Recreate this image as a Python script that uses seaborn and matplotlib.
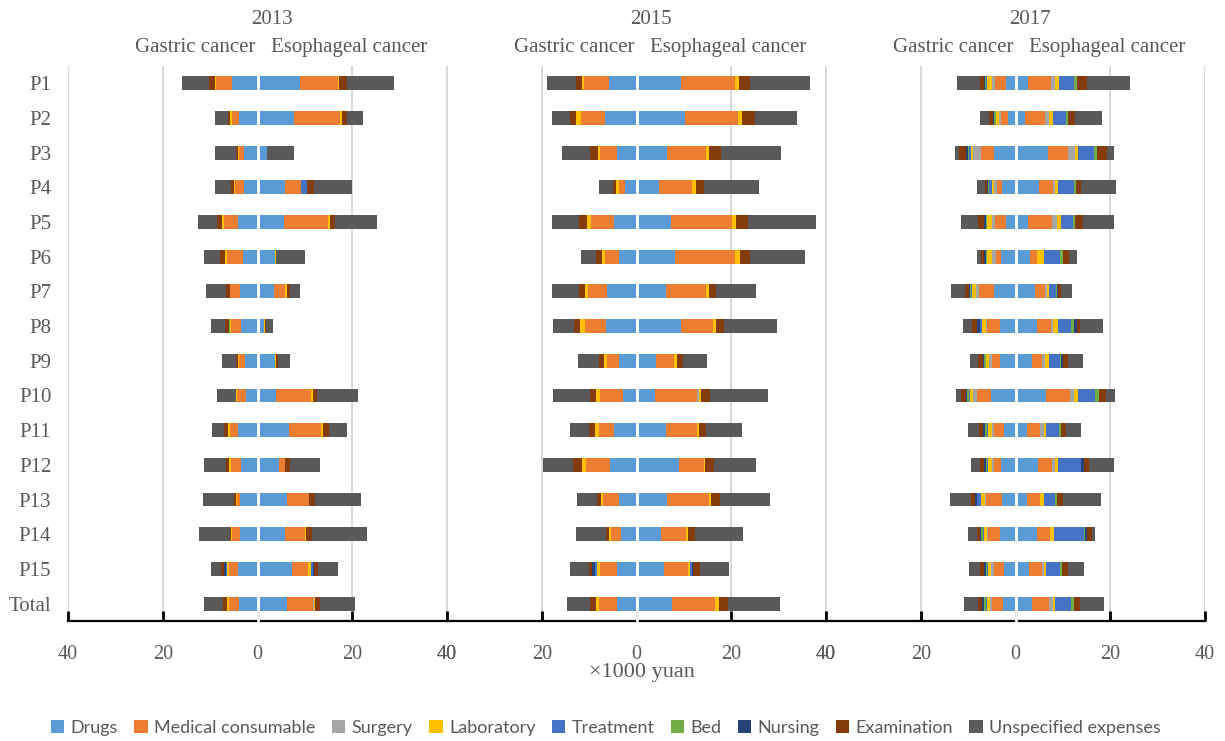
import numpy as np
import seaborn as sns
import matplotlib.pyplot as plt
from matplotlib.patches import Patch
from matplotlib.transforms import blended_transform_factory

rows = ['P1', 'P2', 'P3', 'P4', 'P5', 'P6', 'P7', 'P8', 'P9', 'P10',
        'P11', 'P12', 'P13', 'P14', 'P15', 'Total']
cost_items = ['Drugs', 'Medical consumable', 'Surgery', 'Laboratory', 'Treatment',
              'Bed', 'Nursing', 'Examination', 'Unspecified expenses']
item_colors = ['#5B9BD5', '#ED7D31', '#A5A5A5', '#FFC000', '#4472C4',
               '#70AD47', '#264478', '#843C0C', '#595959']
years = ['2013', '2015', '2017']

# x1000 yuan, columns follow cost_items
gastric_2013 = [
    [5.4, 3.3, 0, 0.3, 0, 0, 0, 1.2, 5.8],
    [3.9, 1.4, 0, 0.4, 0, 0, 0, 0.5, 2.8],
    [2.9, 1.1, 0, 0.2, 0, 0, 0, 0.35, 4.5],
    [2.8, 2.0, 0, 0.1, 0, 0, 0, 0.7, 3.3],
    [4.2, 2.9, 0, 0.3, 0, 0, 0, 1.05, 4.1],
    [3.1, 3.4, 0, 0.3, 0, 0, 0, 1.05, 3.5],
    [3.6, 2.2, 0, 0.1, 0, 0, 0, 0.8, 4.1],
    [3.4, 2.1, 0, 0.4, 0, 0.2, 0, 0.8, 2.9],
    [2.6, 1.2, 0, 0.4, 0, 0, 0, 0.4, 2.8],
    [2.4, 1.9, 0, 0.2, 0, 0, 0, 0, 4.1],
    [4.2, 1.6, 0, 0.35, 0, 0, 0, 1.0, 2.5],
    [3.4, 2.2, 0, 0.35, 0, 0, 0, 0.7, 4.7],
    [3.6, 0.8, 0, 0.2, 0, 0, 0, 0.4, 6.5],
    [3.6, 1.7, 0, 0.2, 0, 0, 0, 0.3, 6.6],
    [4.2, 1.8, 0, 0.35, 0.35, 0, 0.4, 0.5, 2.25],
    [3.9, 2.2, 0, 0.35, 0, 0, 0, 0.8, 4.1],
]
esophageal_2013 = [
    [9.0, 7.9, 0, 0.35, 0, 0, 0, 1.7, 9.8],
    [7.6, 9.75, 0, 0.4, 0, 0, 0, 1.2, 3.4],
    [1.9, 0, 0, 0, 0, 0, 0, 0, 5.9],
    [5.9, 3.2, 0, 0.15, 1.2, 0, 0, 1.4, 8.2],
    [5.6, 9.3, 0, 0.35, 0, 0, 0, 1.05, 8.9],
    [3.6, 0, 0, 0.35, 0, 0, 0, 0, 6.0],
    [3.4, 2.45, 0, 0.35, 0, 0, 0, 0.6, 2.25],
    [1.3, 0, 0, 0.2, 0, 0.15, 0, 0.2, 1.4],
    [3.7, 0, 0, 0.15, 0, 0.15, 0, 0.35, 2.45],
    [4.0, 7.2, 0, 0.5, 0, 0, 0, 0.9, 8.6],
    [6.6, 6.8, 0, 0.35, 0, 0, 0, 1.25, 3.9],
    [4.6, 1.1, 0, 0.2, 0, 0, 0, 0.9, 6.4],
    [6.3, 4.5, 0, 0, 0, 0, 0, 1.25, 9.8],
    [5.9, 4.1, 0, 0.25, 0, 0, 0, 1.25, 11.7],
    [7.3, 3.4, 0, 0.5, 0.5, 0, 0.3, 0.75, 4.2],
    [6.3, 5.5, 0.15, 0.2, 0, 0, 0, 1.1, 7.4],
]
gastric_2015 = [
    [5.75, 5.3, 0, 0.4, 0, 0, 0, 1.3, 6.1],
    [6.6, 5.2, 0, 1.0, 0, 0, 0, 1.25, 3.7],
    [4.1, 3.5, 0, 0.55, 0, 0, 0, 1.7, 5.85],
    [2.4, 1.2, 0, 0.7, 0, 0, 0, 0.6, 3.1],
    [4.8, 4.9, 0, 0.85, 0, 0, 0, 1.55, 5.8],
    [3.6, 3.0, 0, 0.75, 0, 0, 0, 1.1, 3.3],
    [6.3, 4.0, 0, 0.55, 0, 0, 0, 1.25, 5.8],
    [6.4, 4.4, 0, 1.05, 0, 0, 0, 1.4, 4.45],
    [3.6, 2.6, 0, 0.7, 0, 0, 0, 1.1, 4.25],
    [2.75, 5.0, 0, 0.75, 0, 0, 0, 1.25, 7.9],
    [4.85, 3.15, 0, 0.85, 0, 0, 0, 1.2, 3.9],
    [5.5, 5.2, 0, 0.75, 0, 0, 0, 1.9, 6.3],
    [3.6, 3.5, 0, 0.3, 0, 0, 0, 0.9, 4.2],
    [3.2, 2.15, 0, 0.35, 0, 0, 0, 0.7, 6.3],
    [4.1, 3.7, 0, 0.55, 0.5, 0, 0.5, 0.7, 3.9],
    [4.2, 3.7, 0, 0.6, 0, 0, 0, 1.25, 4.9],
]
esophageal_2015 = [
    [9.45, 11.4, 0, 0.7, 0, 0, 0, 2.5, 12.5],
    [10.15, 11.2, 0, 0.9, 0, 0, 0, 2.7, 8.9],
    [6.5, 8.25, 0, 0.6, 0, 0, 0, 2.45, 12.8],
    [4.8, 7.0, 0, 0.7, 0, 0, 0, 1.75, 11.6],
    [7.3, 12.85, 0, 0.75, 0, 0, 0, 2.65, 14.25],
    [8.2, 12.6, 0, 1.0, 0, 0, 0, 2.25, 11.5],
    [6.3, 8.45, 0, 0.6, 0, 0, 0, 1.45, 8.5],
    [9.45, 6.6, 0, 0.75, 0, 0, 0, 1.7, 11.2],
    [4.15, 3.85, 0, 0.55, 0, 0, 0, 1.2, 5.15],
    [3.8, 9.0, 0.4, 0.4, 0, 0, 0, 2.0, 12.2],
    [6.3, 6.5, 0, 0.35, 0, 0, 0, 1.55, 7.5],
    [8.95, 5.25, 0, 0.3, 0, 0, 0, 1.9, 8.85],
    [6.5, 8.7, 0, 0.5, 0, 0, 0, 1.95, 10.5],
    [5.2, 5.15, 0, 0.6, 0, 0, 0, 1.45, 10.0],
    [5.9, 5.0, 0, 0.3, 0.55, 0, 0.2, 1.4, 6.15],
    [7.55, 9.1, 0, 0.7, 0, 0, 0, 1.95, 11.0],
]
gastric_2017 = [
    [1.95, 2.4, 0.55, 1.05, 0.2, 0.2, 0.2, 1.0, 4.7],
    [1.6, 1.55, 0.35, 0.7, 0, 0.25, 0.3, 0.85, 1.95],
    [4.55, 2.8, 1.7, 0.3, 0.4, 0.2, 0.4, 1.5, 0.9],
    [2.95, 0.9, 0.6, 0.6, 0.55, 0.2, 0.3, 0.35, 1.6],
    [1.95, 2.4, 0.55, 1.05, 0, 0.35, 0.3, 1.35, 3.45],
    [3.15, 1.05, 0.7, 1.05, 0, 0.3, 0.3, 0.65, 0.85],
    [4.55, 3.15, 0.7, 0.7, 0.2, 0.3, 0.3, 0.85, 2.9],
    [3.35, 2.75, 0.2, 0.75, 0.5, 0, 0.6, 1.1, 1.9],
    [3.35, 1.55, 0.7, 0.7, 0, 0.35, 0.3, 1.0, 1.6],
    [5.1, 3.1, 0.75, 0.65, 0.3, 0.3, 0.3, 1.05, 1.0],
    [2.45, 2.1, 0.5, 0.75, 0.3, 0.35, 0.4, 0.85, 2.4],
    [3.15, 1.4, 0.5, 0.7, 0.2, 0.3, 0.3, 0.85, 2.05],
    [2.95, 3.35, 0.2, 0.85, 0.7, 0, 0.55, 0.7, 4.5],
    [3.35, 2.4, 0.2, 0.7, 0.3, 0.3, 0.3, 0.65, 1.9],
    [2.45, 2.1, 0.55, 0.65, 0.2, 0.35, 0.3, 0.85, 2.35],
    [2.65, 2.25, 0.5, 0.6, 0.3, 0.3, 0.4, 0.85, 2.95],
]
esophageal_2017 = [
    [2.65, 4.85, 0.85, 0.9, 3.2, 0.5, 0, 2.1, 9.05],
    [2.1, 4.2, 0.85, 0.75, 2.8, 0.35, 0, 1.55, 5.75],
    [6.8, 4.2, 1.6, 0.55, 3.5, 0.55, 0, 2.1, 1.5],
    [5.05, 2.8, 0.55, 0.55, 3.5, 0.3, 0, 1.1, 7.45],
    [2.65, 5.05, 1.0, 1.0, 2.45, 0.5, 0, 1.55, 6.65],
    [3.15, 1.4, 0, 1.4, 3.5, 0.55, 0, 1.2, 1.7],
    [4.05, 2.1, 0.5, 0.4, 1.55, 0.2, 0.15, 0.7, 2.2],
    [4.55, 2.95, 0.4, 1.0, 2.8, 0.7, 0.55, 0.75, 4.75],
    [3.5, 2.1, 0.7, 0.85, 2.25, 0.3, 0.25, 1.05, 3.2],
    [6.45, 5.0, 0.9, 0.85, 3.65, 0.7, 0, 1.6, 1.95],
    [2.45, 2.8, 0.7, 0.55, 2.6, 0.5, 0, 1.1, 3.15],
    [4.75, 2.95, 0.55, 0.7, 4.9, 0, 0.7, 1.05, 5.2],
    [2.45, 2.65, 0, 0.85, 2.45, 0.4, 0, 1.2, 8.05],
    [4.55, 2.8, 0, 0.85, 6.2, 0.2, 0.5, 1.1, 0.5],
    [2.8, 2.8, 0.35, 0.55, 2.95, 0.35, 0, 1.25, 3.5],
    [3.5, 3.65, 0.7, 0.55, 3.25, 0.6, 0, 1.4, 5.1],
]

gastric = [gastric_2013, gastric_2015, gastric_2017]
esophageal = [esophageal_2013, esophageal_2015, esophageal_2017]

sns.set_style('white')
plt.rcParams['font.family'] = ['Liberation Serif', 'DejaVu Serif']
txt = '#595959'

fig = plt.figure(figsize=(12.25, 7.41), dpi=100)
left0 = 68 / 1225
pw = 379 / 1225


def draw_side(ax, data, sign):
    # stacked bars: draw cumulative totals from the outside in
    cum = np.cumsum(np.array(data), axis=1)
    for k in range(len(cost_items) - 1, -1, -1):
        sns.barplot(x=sign * cum[:, k], y=rows, order=rows, orient='h',
                    color=item_colors[k], saturation=1, width=0.4,
                    errorbar=None, linewidth=0, ax=ax)


for i, yr in enumerate(years):
    ax = fig.add_axes([left0 + i * pw, 0.162, pw, 0.749])
    draw_side(ax, gastric[i], -1)
    draw_side(ax, esophageal[i], 1)
    ax.axvline(0, color='white', lw=2, zorder=5, clip_on=False)

    ax.set_xlim(-40, 40)
    ax.set_ylim(15.5, -0.5)
    ax.set_xticks([-40, -20, 0, 20, 40])
    ax.set_xticklabels(['40', '20', '0', '20', '40'])
    ax.xaxis.grid(True, color='#D9D9D9', lw=1.5)
    ax.set_axisbelow(True)
    zt = ax.xaxis.get_major_ticks()[2]
    zt.tick1line.set_visible(False)
    zt.gridline.set_visible(False)
    ax.tick_params(axis='x', direction='in', length=7, width=2, color='black',
                   pad=17, labelsize=14.5, labelcolor=txt, bottom=True)
    for s in ['top', 'left', 'right']:
        ax.spines[s].set_visible(False)
    ax.spines['bottom'].set_color('black')
    ax.spines['bottom'].set_linewidth(1.6)
    ax.set_xlabel('')
    ax.set_ylabel('')
    if i == 0:
        ax.tick_params(axis='y', length=0, pad=12, labelsize=15, labelcolor=txt)
    else:
        ax.tick_params(axis='y', length=0, labelleft=False)

    tr = blended_transform_factory(ax.transData, ax.transAxes)
    ax.text(3, 1.083, yr, transform=tr, ha='center', va='center',
            fontsize=15, color=txt)
    ax.text(-0.5, 1.034, 'Gastric cancer', transform=tr, ha='right',
            va='center', fontsize=15, color=txt)
    ax.text(2.8, 1.034, 'Esophageal cancer', transform=tr, ha='left',
            va='center', fontsize=15, color=txt)

fig.text(642 / 1225, 1 - 672 / 741, '\u00d71000 yuan', ha='center', va='center',
         fontsize=16, color=txt)

handles = [Patch(facecolor=c, edgecolor='none') for c in item_colors]
fig.legend(handles, cost_items, loc='center', bbox_to_anchor=(606 / 1225, 1 - 728 / 741),
           ncol=9, frameon=False, handlelength=0.75, handleheight=0.75,
           handletextpad=0.35, columnspacing=0.9,
           prop={'family': ['Lato', 'DejaVu Sans'], 'size': 13}, labelcolor=txt)

fig.savefig('out.png', dpi=100)
